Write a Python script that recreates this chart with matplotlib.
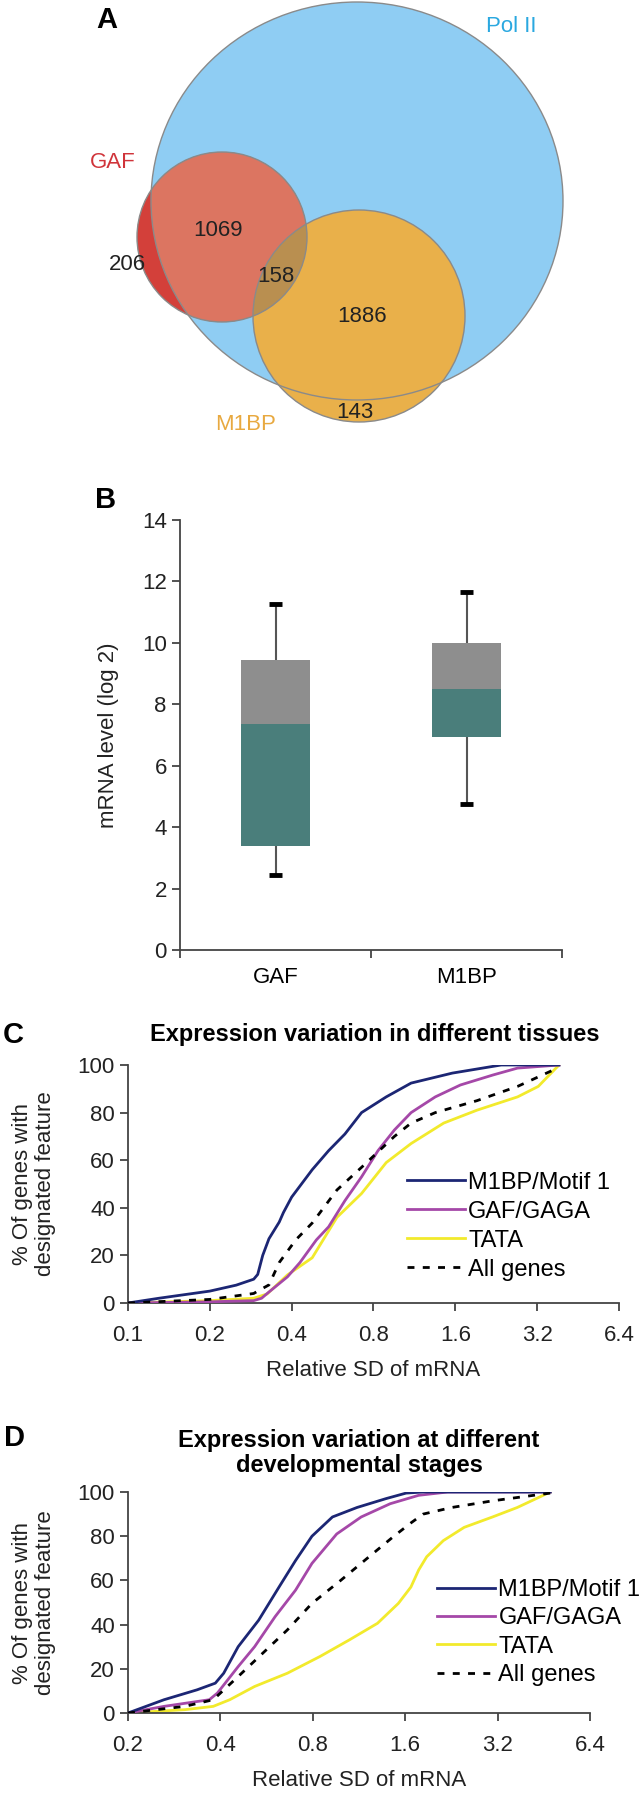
import matplotlib
matplotlib.use("Agg")
import matplotlib.pyplot as plt
from matplotlib.patches import Ellipse, Circle

plt.rcParams['font.family'] = ['Liberation Sans', 'DejaVu Sans']

# ---- panel A: Venn counts
venn_names = ["Pol II", "GAF", "M1BP"]
venn_counts = ["206", "1069", "158", "1886", "143"]

# ---- panel B: box stats (mRNA level, log2)
box_cats = ["GAF", "M1BP"]
whisk_lo = [2.45, 4.75]
q1 = [3.4, 6.95]
med = [7.35, 8.5]
q3 = [9.45, 10.0]
whisk_hi = [11.25, 11.65]

# ---- panel C: tissues, cumulative %
c_m1bp_x = [0.1, 0.13, 0.15, 0.2, 0.25, 0.29, 0.30, 0.313, 0.33, 0.36, 0.373, 0.40, 0.476, 0.547, 0.628, 0.723, 0.891, 1.10, 1.56, 2.36, 3.85]
c_m1bp_y = [0, 2, 3, 5, 7.5, 10, 12, 20, 27, 34, 38, 44.5, 56, 64, 71, 80, 86.6, 92.4, 96.6, 100, 100]
c_gaf_x = [0.1, 0.2, 0.29, 0.31, 0.325, 0.386, 0.429, 0.493, 0.547, 0.628, 0.723, 0.831, 0.955, 1.10, 1.35, 1.67, 2.20, 2.71, 3.85]
c_gaf_y = [0, 0.5, 1, 2, 4, 11, 17, 26.5, 32, 43, 53, 64, 72.7, 80, 86.6, 91.6, 95.8, 98.7, 100]
c_tata_x = [0.1, 0.2, 0.29, 0.325, 0.386, 0.476, 0.587, 0.723, 0.891, 1.10, 1.45, 1.92, 2.71, 3.23, 3.85]
c_tata_y = [0, 1, 2, 3.8, 11.8, 19, 36, 46, 59, 67, 75.6, 81, 86.6, 91, 100]
c_all_x = [0.1, 0.2, 0.29, 0.30, 0.33, 0.36, 0.414, 0.476, 0.587, 0.723, 0.955, 1.10, 1.35, 1.92, 2.71, 3.85]
c_all_y = [0, 1.5, 4, 5, 7.6, 17, 26.5, 33.6, 47.5, 57, 70, 75.6, 80, 85, 91, 99]

# ---- panel D: developmental stages, cumulative %
d_m1bp_x = [0.2, 0.262, 0.336, 0.385, 0.41, 0.457, 0.533, 0.621, 0.703, 0.795, 0.927, 1.115, 1.385, 1.61, 1.83, 4.75]
d_m1bp_y = [0, 6, 10.5, 13.5, 18, 30, 42, 57, 69, 80, 88.7, 93, 97, 99.5, 100, 100]
d_gaf_x = [0.2, 0.262, 0.368, 0.391, 0.457, 0.517, 0.603, 0.703, 0.795, 0.957, 1.15, 1.43, 1.77, 2.20, 4.75]
d_gaf_y = [0, 3, 6, 9, 21, 30, 43.6, 55.6, 67.7, 81, 88.7, 94.7, 98.5, 100, 100]
d_tata_x = [0.2, 0.306, 0.379, 0.429, 0.517, 0.661, 0.845, 1.05, 1.30, 1.52, 1.67, 1.77, 1.88, 2.13, 2.49, 3.08, 3.71, 4.75]
d_tata_y = [0, 1.5, 3, 6, 12, 18, 25.6, 33, 40.6, 49.6, 57, 64.7, 70.7, 78, 84, 88.7, 93, 100]
d_all_x = [0.2, 0.306, 0.379, 0.457, 0.549, 0.661, 0.795, 0.986, 1.22, 1.47, 1.67, 1.83, 2.27, 3.08, 3.94, 4.75]
d_all_y = [0, 3, 6, 16.5, 27, 37.6, 49.6, 60, 70.7, 80, 86, 90, 93, 96, 98, 99.5]

c_ticks = [0.1, 0.2, 0.4, 0.8, 1.6, 3.2, 6.4]
d_ticks = [0.2, 0.4, 0.8, 1.6, 3.2, 6.4]
series_names = ["M1BP/Motif 1", "GAF/GAGA", "TATA", "All genes"]

NAVY = "#1c2674"
MAG = "#a548a8"
YEL = "#f2ea2c"
W, H = 641, 1793

fig = plt.figure(figsize=(W / 100, H / 100), dpi=100)

# ================= A =================
ax = fig.add_axes([0, 1 - 440 / H, 1, 440 / H])
ax.set_xlim(0, W)
ax.set_ylim(440, 0)
ax.axis("off")
pol = Ellipse((357, 201), 412, 398, fc="#8fcdf3", ec="none")
ax.add_patch(pol)
ax.add_patch(Circle((222, 237), 85, fc="#d3403a", ec="none"))
gaf_in = Circle((222, 237), 85, fc="#dc7561", ec="none")
ax.add_patch(gaf_in)
gaf_in.set_clip_path(pol)
m1 = Circle((359, 316), 106, fc="#e9b04a", ec="none")
ax.add_patch(m1)
gm = Circle((222, 237), 85, fc="#b98f50", ec="none")
ax.add_patch(gm)
gm.set_clip_path(m1)
for p in [Circle((222, 237), 85), Circle((359, 316), 106), Ellipse((357, 201), 412, 398)]:
    p.set_fc("none")
    p.set_ec("#8a8a8a")
    p.set_lw(1.0)
    ax.add_patch(p)

num_pos = [(127, 265), (218, 230), (276, 277), (362, 317), (355, 413)]
for (x, y), t in zip(num_pos, venn_counts):
    ax.text(x, y, t, ha="center", va="center", fontsize=16, color="#222222")
ax.text(511, 27, venn_names[0], ha="center", va="center", fontsize=16, color="#2aa8e0")
ax.text(113, 162, venn_names[1], ha="center", va="center", fontsize=16, color="#d0343a")
ax.text(246, 425, venn_names[2], ha="center", va="center", fontsize=16, color="#e8a940")
ax.text(107, 20, "A", ha="center", va="center", fontsize=21, fontweight="bold")


def style(a):
    for s in ["top", "right"]:
        a.spines[s].set_visible(False)
    for s in ["left", "bottom"]:
        a.spines[s].set_color("#444444")
        a.spines[s].set_linewidth(1.3)
    a.tick_params(colors="#444444", labelcolor="#222222", labelsize=16, length=6, width=1.3)


# ================= B =================
axb = fig.add_axes([180 / W, 1 - 950 / H, 382 / W, 430 / H])
style(axb)
xs = [1, 2]
axb.vlines(xs, whisk_lo, q1, color="#555555", lw=1.5)
axb.vlines(xs, q3, whisk_hi, color="#555555", lw=1.5)
axb.hlines(whisk_lo + whisk_hi, [x - 0.035 for x in xs] * 2, [x + 0.035 for x in xs] * 2, color="black", lw=3.5)
axb.bar(xs, [m - a for m, a in zip(med, q1)], bottom=q1, width=0.36, color="#4a7e7b")
axb.bar(xs, [b - m for b, m in zip(q3, med)], bottom=med, width=0.36, color="#8e8e8e")
axb.set_xlim(0.5, 2.5)
axb.set_ylim(0, 14)
axb.set_yticks(range(0, 15, 2))
axb.set_xticks([0.5, 1.5, 2.5])
axb.set_xticklabels([])
axb.set_xticks(xs, minor=True)
axb.set_xticklabels(box_cats, minor=True)
axb.tick_params(axis="x", which="minor", length=0, pad=12, labelsize=16)
axb.set_ylabel("mRNA level (log 2)", fontsize=16, color="#222222")
axb.yaxis.set_label_coords(-0.16, 0.5)
fig.text(106 / W, 1 - 500 / H, "B", ha="center", va="center", fontsize=21, fontweight="bold")


def cdf_panel(rect, xs_list, ys_list, ticks, title, title_x, title_y, leg_anchor, leg_space, lab_x):
    a = fig.add_axes(rect)
    style(a)
    cols = [NAVY, MAG, YEL, "black"]
    for i, (x, y) in enumerate(zip(xs_list, ys_list)):
        ls = (0, (2.5, 3)) if i == 3 else "-"
        a.plot(x, y, color=cols[i], lw=2.0, ls=ls, label=series_names[i], zorder=4 - i if i < 3 else 5)
    a.set_xscale("log", base=2)
    a.set_xlim(ticks[0], ticks[-1])
    a.set_ylim(0, 100)
    a.set_xticks(ticks)
    a.set_xticklabels([str(t) for t in ticks])
    a.minorticks_off()
    a.set_yticks(range(0, 101, 20))
    a.tick_params(axis="x", pad=10)
    a.set_xlabel("Relative SD of mRNA", fontsize=16, color="#222222", labelpad=10)
    a.set_ylabel("% Of genes with\ndesignated feature", fontsize=16, color="#222222", linespacing=1.1)
    a.yaxis.set_label_coords(lab_x, 0.5)
    a.legend(loc="center left", bbox_to_anchor=leg_anchor, frameon=False, fontsize=17,
             handlelength=2.45, handletextpad=0.15, labelspacing=leg_space,
             borderpad=0, borderaxespad=0)
    fig.text(title_x, title_y, title, ha="center", va="center", fontsize=17,
             fontweight="bold", linespacing=1.15)
    return a


cdf_panel([128 / W, 1 - 1303 / H, 491 / W, 238 / H],
          [c_m1bp_x, c_gaf_x, c_tata_x, c_all_x], [c_m1bp_y, c_gaf_y, c_tata_y, c_all_y],
          c_ticks, "Expression variation in different tissues", 375 / W, 1 - 1035 / H,
          (0.568, 0.323), 0.3, -0.147)
fig.text(13 / W, 1 - 1035 / H, "C", ha="center", va="center", fontsize=21, fontweight="bold")

cdf_panel([128 / W, 1 - 1713 / H, 462 / W, 221 / H],
          [d_m1bp_x, d_gaf_x, d_tata_x, d_all_x], [d_m1bp_y, d_gaf_y, d_tata_y, d_all_y],
          d_ticks, "Expression variation at different\ndevelopmental stages", 359 / W, 1 - 1453 / H,
          (0.669, 0.364), 0.26, -0.156)
fig.text(14 / W, 1 - 1438 / H, "D", ha="center", va="center", fontsize=21, fontweight="bold")

fig.savefig("out.png", dpi=100)
